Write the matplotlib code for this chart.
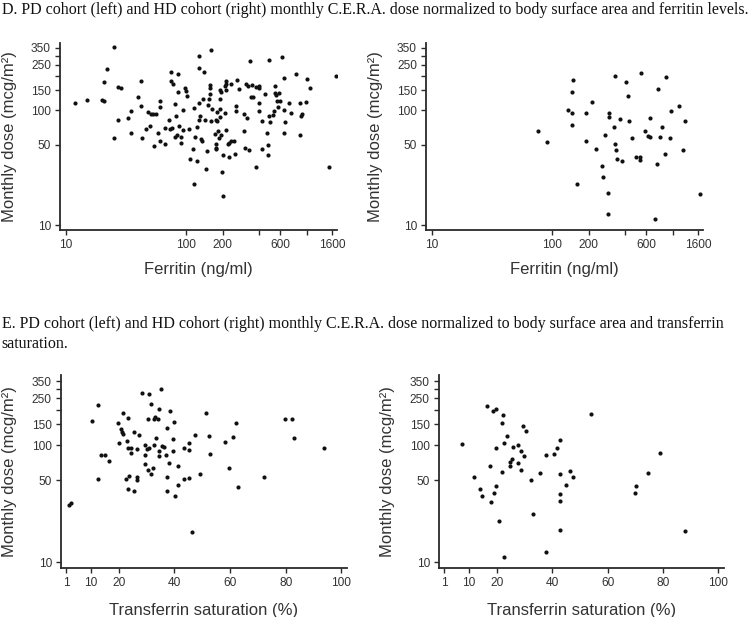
import numpy as np
import matplotlib
matplotlib.use("Agg")
import matplotlib.pyplot as plt
from matplotlib.ticker import NullLocator

plt.rcParams['font.family'] = ['Liberation Sans', 'DejaVu Sans']

# --- data (dose in mcg/m2) ---
# D, PD cohort: ferritin (ng/ml) vs monthly dose
pd_ferritin = [12, 15, 20, 21, 25, 22, 21, 27, 29, 25, 27, 33, 35, 35, 40, 42, 42, 43, 46, 48,
               50, 51, 53, 56, 58, 60, 61, 60, 54, 66, 66, 72, 73, 74, 74, 77, 76, 81, 82, 81,
               84, 86, 86, 87, 90, 91, 93, 94, 97, 99, 101, 105, 108, 113, 115, 116, 118,
               126, 160, 126, 140, 126, 137, 151, 156, 156, 158, 154, 164, 189, 195, 189, 212,
               214, 212, 233, 261, 271, 209, 188, 190, 208, 179, 177, 179, 161, 143, 130, 127,
               122, 133, 134, 148, 175, 177, 175, 183, 174, 195, 186, 213, 223, 233, 248, 221,
               201, 225, 250, 122, 145, 197, 199, 256, 256, 298, 316, 298, 304, 332, 334, 310,
               326, 348, 343, 357, 378, 400, 402, 395, 400, 418, 380, 420, 451, 466, 475, 469,
               484, 484, 496, 519, 536, 532, 542, 549, 560, 585, 567, 593, 616, 640, 644, 648,
               640, 709, 731, 800, 863, 874, 903, 891, 980, 992, 1058, 1500, 1736]
pd_dose_f = [116, 123, 123, 121, 354, 229, 177, 160, 155, 57, 82, 85, 98, 63, 130, 179, 110, 57, 69, 97,
             72.5, 92, 93, 92, 63, 121, 107, 54, 49, 50.5, 70, 83, 69, 217, 181, 170, 70, 114, 89, 59,
             61, 209, 144, 72.5, 58, 52, 100, 68, 157, 148, 134, 69, 38, 46, 105, 23, 59,
             300, 338, 235, 217, 115, 126, 112, 165, 157, 138, 125, 103, 150, 145, 125, 180,
             170, 150, 168, 185, 153, 162, 103, 88, 95, 96, 82, 80, 80, 82, 89, 82,
             71, 56, 54, 44, 51, 47, 46, 66, 62, 60.5, 57, 68, 52, 54, 54, 51,
             41, 39, 42, 36, 31, 29, 18, 110, 99, 93.5, 86, 66, 47, 45, 271, 168,
             164, 166, 131, 131, 161, 164, 157, 115, 99, 81, 32, 46, 139, 64, 50, 41,
             276, 89, 79, 91, 141, 99, 163, 136, 120, 141, 106, 120, 293, 192, 101, 79,
             64, 115, 94, 209, 60.5, 115, 93, 90, 118, 186, 157, 32, 199]

# D, HD cohort
hd_ferritin = [76, 91, 134, 147, 146, 146, 146, 161, 188, 189, 212, 228, 256, 261, 270, 291, 289,
               296, 296, 322, 330, 332, 337, 339, 359, 380, 407, 423, 431, 454, 493, 529, 529,
               542, 585, 612, 640, 644, 704, 727, 741, 770, 805, 857, 868, 937, 961, 1113, 1201,
               1240, 1661]
hd_dose_f = [66, 53, 100, 184, 143, 95, 75, 23, 54, 95, 118, 46, 33, 26, 61, 19, 12.4,
             94, 88, 71, 201, 50.5, 45, 38, 83.5, 36, 178, 132, 80, 57, 39, 39, 37,
             212, 66, 60, 58, 85, 11.4, 34, 153, 59, 72, 42, 194, 57, 99, 110, 45,
             81, 18.6]

# E, PD cohort: transferrin saturation (%) vs monthly dose
pd_tsat = [2.0, 2.7, 10.5, 12.5, 12.5, 13.7, 14.9, 16.5, 19.7, 19.9, 20.8, 21.2, 21.5, 21.5, 22.4,
           23.0, 23.4, 23.4, 23.5, 23.4, 24.3, 24.5, 25.4, 25.4, 26.4, 26.4, 26.4, 27.1, 28.4,
           29.4, 29.4, 29.4, 30.2, 30.4, 30.4, 30.9, 31.0, 31.4, 31.6, 32.4, 32.5, 32.7, 32.9,
           33.4, 34.0, 34.4, 34.4, 34.5, 35.2, 35.5, 36.3, 36.8, 37.4, 37.4, 37.4, 38.1, 38.4,
           39.3, 39.4, 39.8, 40.2, 41.3, 41.3, 43.3, 43.3, 45.3, 45.3, 45.3, 46.2, 47.3, 49.3,
           51.2, 52.3, 52.7, 58.3, 59.5, 61.2, 62.2, 62.8, 72.1, 79.8, 82.1, 82.9, 93.8]
pd_dose_t = [30.6, 31.8, 162, 220, 51, 82.5, 82.5, 73, 154, 104, 136, 129, 124, 189, 51,
             108.5, 171, 95, 55, 42, 95, 86, 129, 41, 92, 53, 50.5, 123, 280,
             100, 82.5, 69, 92, 166, 61, 274, 95, 223, 57, 63.5, 100, 168, 172,
             116, 167, 89, 80, 202, 299, 98, 96.5, 82.5, 141, 54, 41, 71, 195,
             112, 89, 158, 37, 66, 46, 51, 94, 104, 90, 52, 18, 122, 56.5,
             188, 120, 84, 106, 64, 117, 155, 44, 54, 168, 168, 116, 95]

# E, HD cohort
hd_tsat = [7.6, 11.8, 13.9, 14.8, 16.7, 17.5, 17.8, 18.8, 18.9, 19.6, 19.8, 19.8, 20.8, 21.8,
           21.8, 22.2, 22.5, 22.8, 23.7, 24.8, 24.9, 25.5, 25.8, 27.8, 27.8, 28.8, 28.8, 29.5,
           29.8, 30.6, 32.3, 33.0, 35.8, 37.8, 37.8, 40.6, 41.7, 42.9, 42.9, 42.9, 42.9, 42.9,
           44.9, 46.4, 47.7, 54.2, 69.9, 70.1, 74.6, 79.0, 88.1]
hd_dose_t = [101.6, 54, 42, 37, 215, 66.5, 33, 197, 39, 203, 95, 45, 22.5, 155,
             59, 181, 105, 11.2, 119, 67, 72, 76, 96.5, 100, 70.5, 89, 61.5, 146,
             80, 133, 50, 26, 58, 82, 12.3, 84, 95, 111, 57, 38, 33.5, 19,
             46, 60, 54, 185, 39, 45, 58, 85, 18.5]

# axis ticks
dose_ticks = [10, 50, 100, 150, 200, 250, 300, 350]
dose_labels = ['10', '50', '100', '150', '', '250', '', '350']
ferr_ticks = [10, 100, 200, 400, 600, 1000, 1600]
ferr_labels = ['10', '100', '200', '', '600', '', '1600']
tsat_ticks = [1, 10, 20, 40, 60, 80, 100]

title_d = ('D. PD cohort (left) and HD cohort (right) monthly C.E.R.A. dose normalized '
           'to body surface area and ferritin levels.')
title_e1 = ('E. PD cohort (left) and HD cohort (right) monthly C.E.R.A. dose normalized '
            'to body surface area and transferrin')
title_e2 = 'saturation.'

DOT = '#111111'
AXC = '#2a2a2a'
TXT = '#333333'

fig = plt.figure(figsize=(7.5, 6.17), dpi=100)

def style(ax):
    for s in ['top', 'right']:
        ax.spines[s].set_visible(False)
    for s in ['left', 'bottom']:
        ax.spines[s].set_color(AXC)
        ax.spines[s].set_linewidth(1.3)
    ax.tick_params(direction='out', length=3.6, width=1.0, color=AXC,
                   labelsize=8.6, labelcolor=TXT, pad=3)
    ax.set_yscale('log')
    ax.yaxis.set_minor_locator(NullLocator())
    ax.set_yticks(dose_ticks)
    ax.set_yticklabels(dose_labels)
    ax.set_ylabel('Monthly dose (mcg/m²)', fontsize=12, color=TXT)
    ax.yaxis.set_label_coords(-0.155, 0.5)


# top row: ferritin
for left, x, y in [(0.080, pd_ferritin, pd_dose_f), (0.568, hd_ferritin, hd_dose_f)]:
    ax = fig.add_axes([left, 0.6272, 0.3693, 0.3031])
    ax.scatter(x, y, s=9, color=DOT, linewidths=0, zorder=3)
    style(ax)
    ax.set_xscale('log')
    ax.xaxis.set_minor_locator(NullLocator())
    ax.set_xticks(ferr_ticks)
    ax.set_xticklabels(ferr_labels)
    ax.set_xlim(9.0, 1760)
    ax.set_ylim(9.05, 386)
    ax.set_xlabel('Ferritin (ng/ml)', fontsize=12, color=TXT)
    ax.xaxis.set_label_coords(0.5, -0.171)

# bottom row: transferrin saturation
for left, w, x, y in [(0.0813, 0.3813, pd_tsat, pd_dose_t), (0.5853, 0.380, hd_tsat, hd_dose_t)]:
    ax = fig.add_axes([left, 0.0794, w, 0.3128])
    ax.scatter(x, y, s=9, color=DOT, linewidths=0, zorder=3)
    style(ax)
    ax.set_xticks(tsat_ticks)
    ax.set_xticklabels([str(t) for t in tsat_ticks])
    ax.set_xlim(-0.8, 102)
    ax.set_ylim(8.96, 396)
    ax.set_xlabel('Transferrin saturation (%)', fontsize=12, color=TXT)
    ax.xaxis.set_label_coords(0.5, -0.180)

# panel captions (serif, as in the source figure)
tkw = dict(family='Liberation Serif', fontsize=11.5, color='#111111', va='baseline', ha='left')
fig.text(0.002, 1 - 13.5 / 617, title_d, **tkw)
fig.text(0.002, 1 - 328 / 617, title_e1, **tkw)
fig.text(0.002, 1 - 348.5 / 617, title_e2, **tkw)

fig.savefig('out.png', dpi=100)
